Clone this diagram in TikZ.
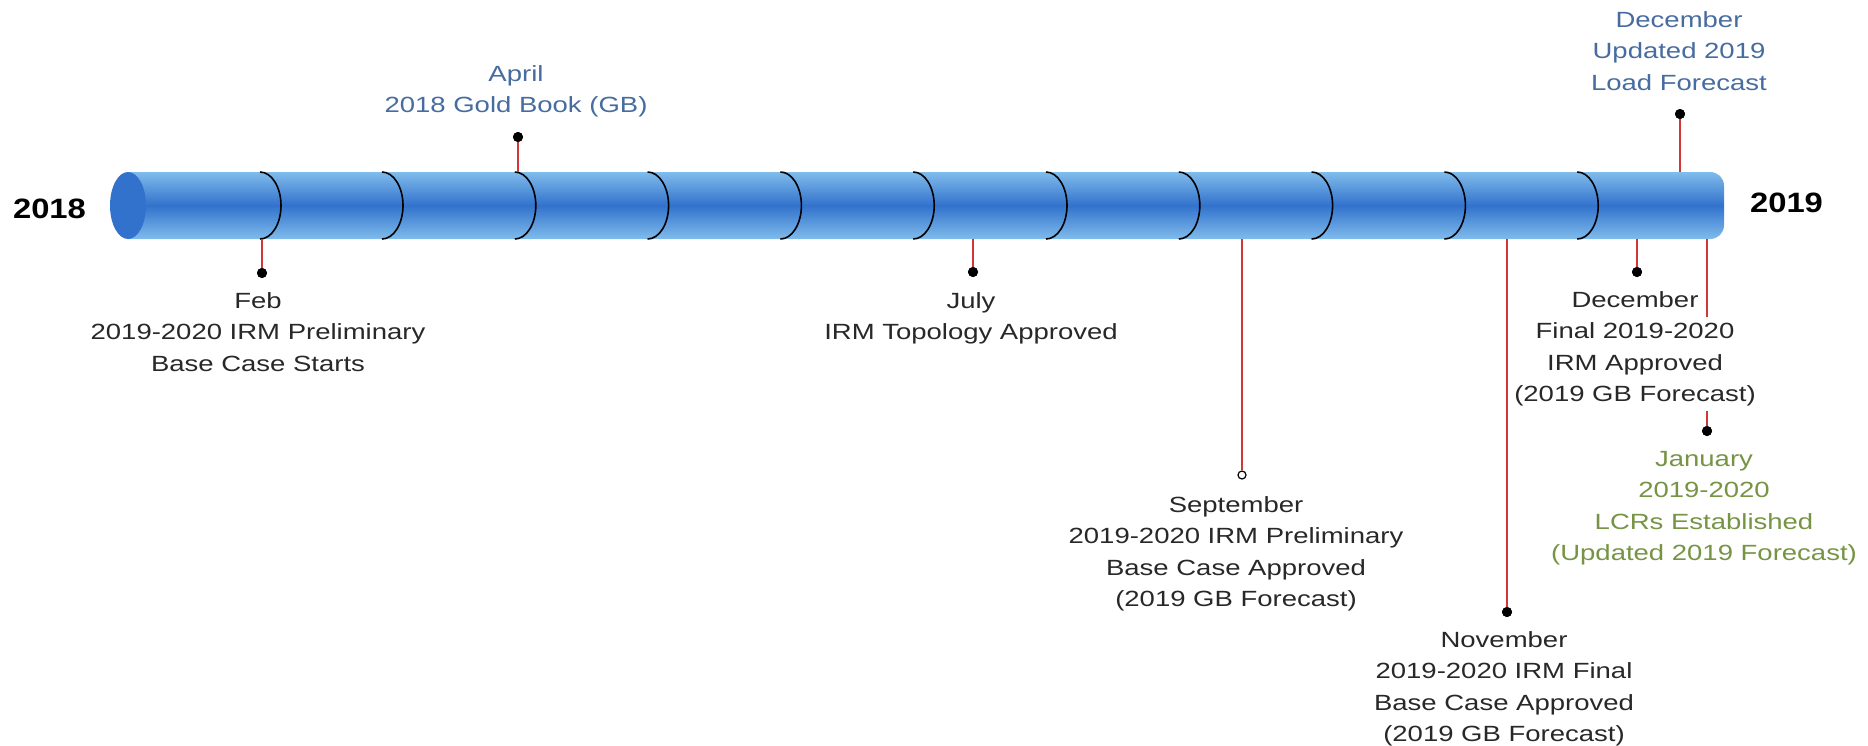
\documentclass[tikz,border=0pt]{standalone}
\usepackage{fontspec}
\setmainfont{Liberation Sans}
\newfontfamily\lblfont[FakeStretch=1.25]{Liberation Sans}
\newfontfamily\yrfont[FakeStretch=1.17]{Liberation Sans}
\definecolor{txtgray}{RGB}{40,40,40}
\definecolor{txtblue}{RGB}{70,108,160}
\definecolor{txtgreen}{RGB}{118,148,68}
\definecolor{stemred}{RGB}{208,55,55}
\definecolor{cyllight}{RGB}{128,188,236}
\definecolor{cyldark}{RGB}{50,114,204}
\begin{document}
\begin{tikzpicture}[x=1pt,y=-1pt,
  lbl/.style={font=\lblfont\fontsize{22}{31.5}\selectfont, align=center, inner sep=0pt, anchor=north, text=txtgray},
  yr/.style={font=\yrfont\bfseries\fontsize{28}{30}\selectfont, inner sep=0pt, anchor=base, text=black},
  stem/.style={draw=stemred, line width=2pt},
  dotf/.style={circle, fill=black, inner sep=0pt, minimum size=10pt},
  doto/.style={circle, draw=black, fill=white, line width=1.2pt, inner sep=0pt, minimum size=8pt},
  seg/.style={draw=black, line width=1.6pt}]
\useasboundingbox[fill=white] (0,0) rectangle (1868,745);

% cylinder body
\shade[top color=cyllight, bottom color=cyllight, middle color=cyldark]
  (128,172) -- (1710,172) .. controls (1718,172) and (1724,178) .. (1724,186)
  -- (1724,225) .. controls (1724,233) and (1718,239) .. (1710,239)
  -- (128,239) -- cycle;
\fill[cyldark] (128,205.5) ellipse [x radius=18, y radius=33.5];

% segment arcs
\foreach \sx in {260,382,514.8,647.6,780.4,913.2,1046,1178.8,1311.6,1444.4,1577.2}
  \draw[seg] (\sx,172) arc[start angle=-90, end angle=90, x radius=21, y radius=33.5];

% year labels
\node[yr] (y2018) at (49.5,218) {2018};
\node[yr] (y2019) at (1786.5,212) {2019};

% stems and dots
\coordinate (febc) at (262,239);
\coordinate (aprc) at (518,172);
\coordinate (julc) at (973,239);
\coordinate (sepc) at (1242,239);
\coordinate (novc) at (1507,239);
\coordinate (decbc) at (1637,239);
\coordinate (dectc) at (1680,172);
\coordinate (janc) at (1707,239);
\coordinate (janbreaka) at (1707,317);
\coordinate (janbreakb) at (1707,411);

\node[dotf] (febdot) at (262,273) {};
\node[dotf] (aprdot) at (518,137) {};
\node[dotf] (juldot) at (973,272) {};
\node[doto] (sepdot) at (1242,475) {};
\node[dotf] (novdot) at (1507,612) {};
\node[dotf] (decbdot) at (1637,272) {};
\node[dotf] (dectdot) at (1680,114) {};
\node[dotf] (jandot) at (1707,431) {};

\begin{scope}[on background layer/.style={}]
\draw[stem] (febc) -- (febdot.center);
\draw[stem] (aprc) -- (aprdot.center);
\draw[stem] (julc) -- (juldot.center);
\draw[stem] (sepc) -- (sepdot);
\draw[stem] (novc) -- (novdot.center);
\draw[stem] (decbc) -- (decbdot.center);
\draw[stem] (dectc) -- (dectdot.center);
\draw[stem] (janc) -- (janbreaka);
\draw[stem] (janbreakb) -- (jandot.center);
\end{scope}
\foreach \d in {febdot,aprdot,juldot,novdot,decbdot,dectdot,jandot}
  \fill[black] (\d) circle (5pt);

% labels
\node[lbl] (feb) at (258,292) {Feb\\2019-2020 IRM Preliminary\\Base Case Starts};
\node[lbl, text=txtblue] (apr) at (516,65) {April\\2018 Gold Book (GB)};
\node[lbl] (jul) at (971,292) {July\\IRM Topology Approved};
\node[lbl] (sep) at (1236,496) {September\\2019-2020 IRM Preliminary\\Base Case Approved\\(2019 GB Forecast)};
\node[lbl] (nov) at (1504,631) {November\\2019-2020 IRM Final\\Base Case Approved\\(2019 GB Forecast)};
\node[lbl] (decb) at (1635,291) {December\\Final 2019-2020\\IRM Approved\\(2019 GB Forecast)};
\node[lbl, text=txtgreen] (jan) at (1704,451) {January\\2019-2020\\LCRs Established\\(Updated 2019 Forecast)};
\node[lbl, text=txtblue] (dect) at (1679,11) {December\\Updated 2019\\Load Forecast};
\end{tikzpicture}
\end{document}
